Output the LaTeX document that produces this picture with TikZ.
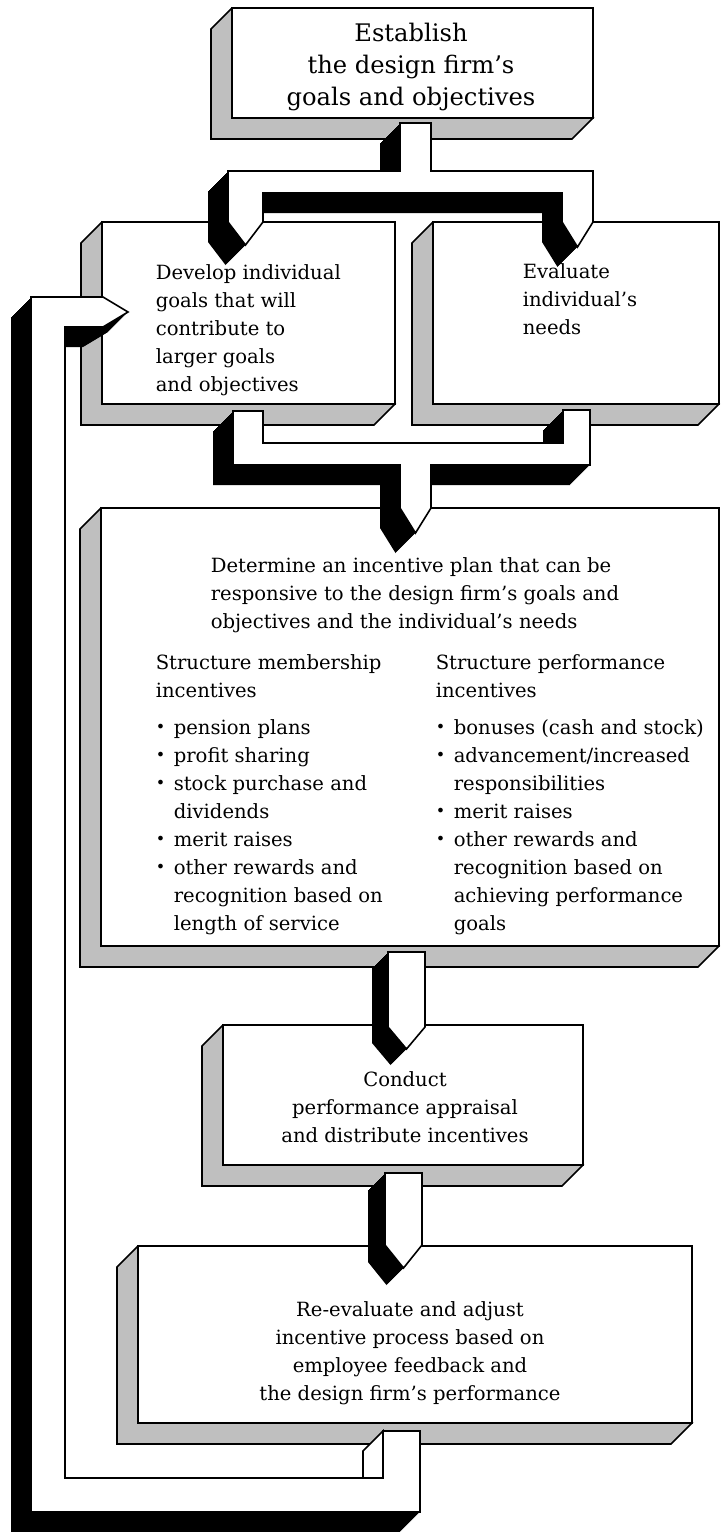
\documentclass[tikz,border=0pt]{standalone}
\usepackage{fontspec}
\setmainfont{DejaVu Serif}

% 立体方框: 左, 上, 右, 下
\newcommand{\slab}[4]{%
  \filldraw[side] (#1,#2) -- ({#1-21},{#2+21}) -- ({#1-21},{#4+21}) -- ({#3-21},{#4+21}) -- (#3,#4) -- cycle;
  \filldraw[face] (#1,#2) rectangle (#3,#4);}
% 立体管道: 深度, 路径
\newcommand{\pipe}[2]{%
  \foreach \s in {1,...,#1} {\fill[shift={(-\s,\s)}] #2;}
  \filldraw[face] #2;}
\newcommand{\bul}{\makebox[9pt][l]{\raisebox{0.2ex}{\footnotesize\textbullet}}}

\begin{document}
\begin{tikzpicture}[x=0.5pt, y=-0.5pt, line width=0.8pt,
    face/.style={fill=white, draw=black},
    side/.style={fill=black!25, draw=black},
    body/.style={font=\fontsize{9.8}{14}\selectfont, inner sep=0pt, align=left},
    title/.style={font=\fontsize{12.1}{16}\selectfont, inner sep=0pt, align=center}]
    \useasboundingbox (0,0) rectangle (720,1532);
    \clip (0,0) rectangle (720,1532);

    % 目标
    \slab{232}{8}{593}{118}
    \node[title] (est) at (411,67) {Establish\\the design firm's\\goals and objectives};

    % 个人目标与需求
    \slab{102}{222}{395}{404}
    \slab{433}{222}{719}{404}
    \pipe{20}{(400,123) -- (431,123) -- (431,171) -- (593,171) -- (593,222) -- (577.5,247) -- (562,222) -- (562,193) -- (263,193) -- (263,222) -- (245.5,245) -- (228,222) -- (228,171) -- (400,171) -- cycle}
    \node[body, anchor=west] (dev) at (155,330) {Develop individual\\goals that will\\contribute to\\larger goals\\and objectives};
    \node[body, anchor=west] (evl) at (522,299) {Evaluate\\individual's\\needs};

    % 激励计划
    \slab{101}{508}{719}{946}
    \pipe{20}{(233,411) -- (263,411) -- (263,443) -- (563,443) -- (563,410) -- (590,410) -- (590,465) -- (431,465) -- (431,508) -- (415.5,533) -- (400,508) -- (400,465) -- (233,465) -- cycle}
    \node[body, anchor=west] (det) at (210,595) {Determine an incentive plan that can be\\responsive to the design firm's goals and\\objectives and the individual's needs};
    \node[body, anchor=north west] (memb) at (155,654) {Structure membership\\incentives\\[4.5pt]
      \bul pension plans\\ \bul profit sharing\\ \bul stock purchase and\\ \hspace*{9pt}dividends\\
      \bul merit raises\\ \bul other rewards and\\ \hspace*{9pt}recognition based on\\ \hspace*{9pt}length of service};
    \node[body, anchor=north west] (perf) at (435,654) {Structure performance\\incentives\\[4.5pt]
      \bul bonuses (cash and stock)\\ \bul advancement/increased\\ \hspace*{9pt}responsibilities\\
      \bul merit raises\\ \bul other rewards and\\ \hspace*{9pt}recognition based on\\ \hspace*{9pt}achieving performance\\ \hspace*{9pt}goals};

    % 考核与分配
    \slab{223}{1025}{583}{1165}
    \pipe{16}{(388,952) -- (425,952) -- (425,1027) -- (406.5,1049) -- (388,1027) -- cycle}
    \node[body, align=center] (cond) at (405,1107) {Conduct\\performance appraisal\\and distribute incentives};

    % 调整
    \slab{138}{1246}{692}{1423}
    \pipe{17}{(385,1173) -- (422,1173) -- (422,1245) -- (403.5,1268) -- (385,1245) -- cycle}
    \node[body, align=center] (reev) at (410,1353) {Re-evaluate and adjust\\incentive process based on\\employee feedback and\\the design firm's performance};

    % 反馈回路
    \pipe{20}{(383,1431) -- (420,1431) -- (420,1512) -- (31,1512) -- (31,297) -- (103,297) -- (128,312) -- (103,327) -- (65,327) -- (65,1478) -- (383,1478) -- cycle}
    \filldraw[face] (383,1431) -- (363,1451) -- (363,1478) -- (383,1478) -- cycle;
\end{tikzpicture}
\end{document}
